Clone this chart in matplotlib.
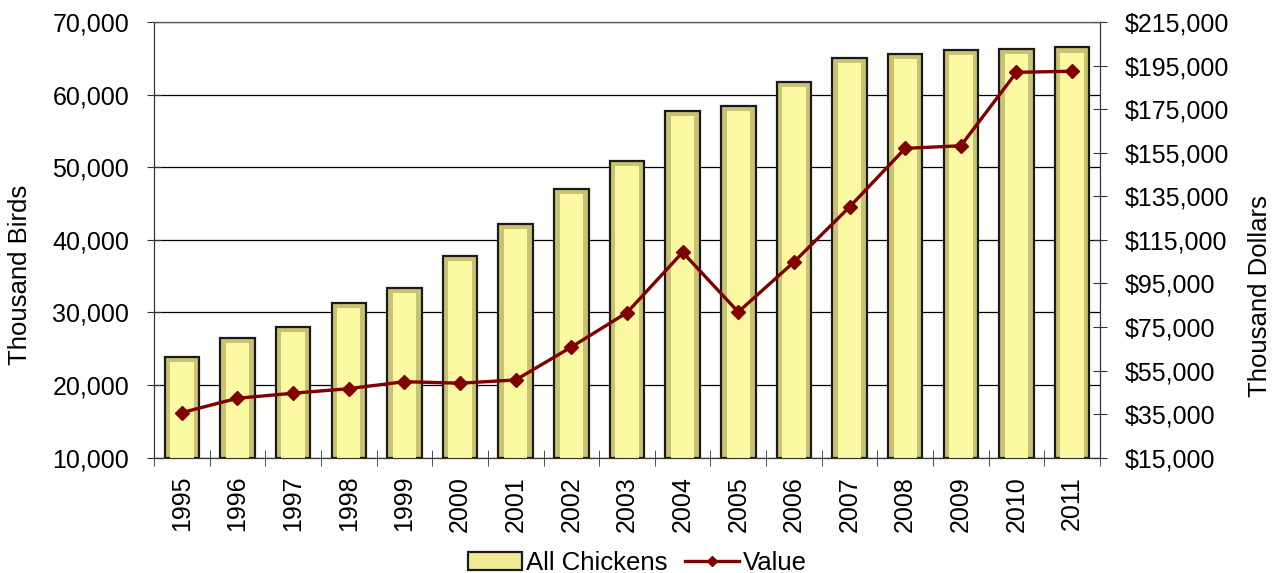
import numpy as np
import matplotlib
matplotlib.use("Agg")
import matplotlib.pyplot as plt
from matplotlib.ticker import FuncFormatter, FixedLocator
from matplotlib.patches import Patch
from matplotlib.lines import Line2D

plt.rcParams['font.family'] = ['Liberation Sans', 'DejaVu Sans']

# Data
years = ['1995', '1996', '1997', '1998', '1999', '2000', '2001', '2002', '2003',
         '2004', '2005', '2006', '2007', '2008', '2009', '2010', '2011']
all_chickens = [23900, 26500, 28000, 31300, 33400, 37800, 42200, 47000, 50900,
                57700, 58500, 61800, 65100, 65600, 66100, 66300, 66500]
value = [35700, 42300, 44600, 46700, 49900, 49200, 50700, 65800, 81600,
         109300, 81900, 104800, 130100, 157000, 158200, 191900, 192400]

x = np.arange(len(years))

fig = plt.figure(figsize=(12.75, 5.73), dpi=100)
ax = fig.add_axes([0.1208, 0.2012, 0.7419, 0.7604])
ax2 = ax.twinx()

# bars: dark rim + lighter inner face for a bevel look
ax.bar(x, [v - 10000 for v in all_chickens], bottom=10000, width=0.62,
       color='#C9C274', edgecolor='#1a1a1a', linewidth=1.6, zorder=2)
ax.bar(x, [v - 10000 - 700 for v in all_chickens], bottom=10000, width=0.42,
       color='#FBF8A2', edgecolor='none', zorder=3)

ax.set_ylim(10000, 70000)
ax.set_xlim(-0.5, len(years) - 0.5)
ax.set_yticks(range(10000, 70001, 10000))
ax.yaxis.set_major_formatter(FuncFormatter(lambda v, p: f'{int(v):,}'))
ax.yaxis.grid(True, color='black', linewidth=0.9, zorder=0)
ax.set_axisbelow(True)

ax.set_xticks(x)
ax.set_xticklabels(years, rotation=90, fontsize=18)
ax.xaxis.set_minor_locator(FixedLocator(np.arange(-0.5, len(years), 1.0)))
ax.tick_params(axis='x', which='major', length=0, pad=13)
ax.tick_params(axis='x', which='minor', length=11, direction='inout', color='#333333')
ax.tick_params(axis='y', labelsize=18, length=10, direction='inout', pad=13, color='#333333')
ax.set_ylabel('Thousand Birds', fontsize=18.5)
ax.yaxis.set_label_coords(-0.129, 0.42)

# line on secondary axis
ax2.plot(x, value, color='#800000', linewidth=2.4, marker='D', markersize=7,
         zorder=5, label='Value')
ax2.set_ylim(15000, 215000)
ax2.set_yticks(range(15000, 215001, 20000))
ax2.yaxis.set_major_formatter(FuncFormatter(lambda v, p: f'${int(v):,}'))
ax2.tick_params(axis='y', labelsize=18, length=10, direction='inout', pad=13, color='#333333')
ax2.set_ylabel('Thousand Dollars', fontsize=18.5)
ax2.yaxis.set_label_coords(1.1565, 0.37)

for a in (ax, ax2):
    a.spines['top'].set_color('#555555')
    a.spines['left'].set_color('#333333')
    a.spines['right'].set_color('#333333')
    a.spines['bottom'].set_color('#333333')

# legend
handles = [Patch(facecolor='#EEEA98', edgecolor='#1a1a1a', linewidth=1.6, label='All Chickens'),
           Line2D([0], [0], color='#800000', linewidth=2.4, marker='D', markersize=5, label='Value')]
fig.legend(handles=handles, loc='center', bbox_to_anchor=(0.5, 0.018), ncol=2,
           frameon=False, fontsize=18.5, handlelength=2.1, handleheight=0.7,
           handletextpad=0.15, columnspacing=0.7, borderpad=0)

fig.savefig('out.png', dpi=100)
